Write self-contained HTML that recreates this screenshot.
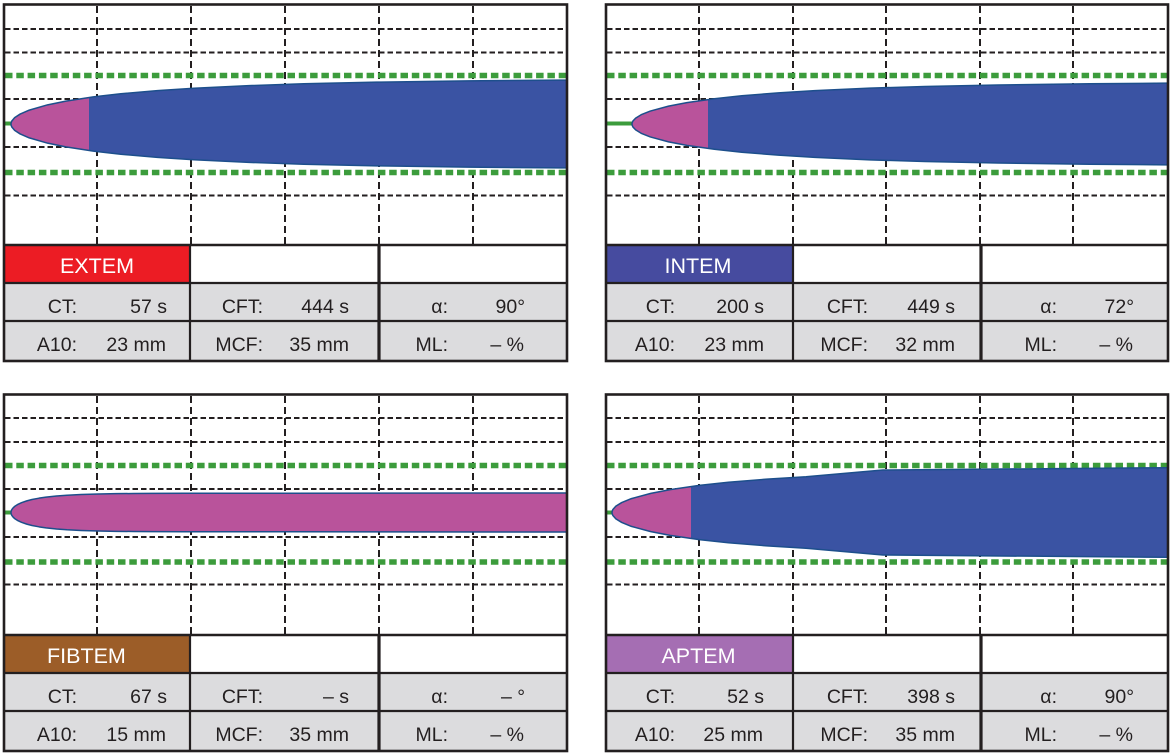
<!DOCTYPE html>
<html>
<head>
<meta charset="utf-8">
<style>
html,body{margin:0;padding:0;background:#fff;}
svg{display:block;}
text{font-family:"Liberation Sans",Arial,sans-serif;}
.lbl{font-size:19.5px;fill:#231f20;text-anchor:end;}
.hdr{font-size:21.5px;fill:#fff;}
.hd{stroke:#231f20;stroke-width:2;stroke-dasharray:5.5 3;fill:none;}
.vd{stroke:#231f20;stroke-width:2;stroke-dasharray:7 4;fill:none;}
.gd{stroke:#3c9c3c;stroke-width:5.5;stroke-dasharray:7.5 3.8;fill:none;}
.gc{stroke:#3c9c3c;stroke-width:4;fill:none;}
.bd{stroke:#231f20;fill:none;}
.blue{fill:#3a53a3;stroke:none;}
.pink{fill:#b9539b;stroke:none;}
.edge{fill:none;stroke:#1d4f8c;stroke-width:1.5;stroke-linejoin:round;}
</style>
</head>
<body>
<svg width="1173" height="755" viewBox="0 0 1173 755" xmlns="http://www.w3.org/2000/svg">
<defs>
  <clipPath id="cTL"><rect x="4" y="5" width="563" height="240"/></clipPath>
  <clipPath id="cTR"><rect x="606" y="5" width="562" height="240"/></clipPath>
  <clipPath id="cBL"><rect x="4" y="395" width="563" height="240"/></clipPath>
  <clipPath id="cBR"><rect x="606" y="395" width="562" height="240"/></clipPath>
  <clipPath id="pTL"><rect x="0" y="0" width="89" height="755"/></clipPath>
  <clipPath id="pTR"><rect x="600" y="0" width="108" height="755"/></clipPath>
  <clipPath id="pBR"><rect x="600" y="0" width="91" height="755"/></clipPath>
</defs>

<!-- ============ TABLE FILLS ============ -->
<rect x="4" y="246" width="186" height="37" fill="#ec1c24"/>
<rect x="4" y="283" width="563" height="78" fill="#dcdcde"/>
<rect x="606" y="246" width="187" height="37" fill="#464b9f"/>
<rect x="606" y="283" width="562" height="78" fill="#dcdcde"/>
<rect x="4" y="636" width="186" height="37" fill="#9c5d28"/>
<rect x="4" y="673" width="563" height="78" fill="#dcdcde"/>
<rect x="606" y="636" width="187" height="37" fill="#a56eb3"/>
<rect x="606" y="673" width="562" height="78" fill="#dcdcde"/>

<!-- ============ GRIDS ============ -->
<g>
  <path class="hd" d="M5 29H566 M5 52.5H566 M5 99H566 M5 147H566 M5 195.5H566"/>
  <path class="vd" d="M97 6V244 M191 6V244 M285 6V244 M379 6V244 M473 6V244"/>
  <path class="gd" d="M5 75.5H566 M5 172.5H566"/>
  <path class="gc" d="M5 123.5H14"/>
</g>
<g>
  <path class="hd" d="M607 29H1167 M607 52.5H1167 M607 99H1167 M607 147H1167 M607 195.5H1167"/>
  <path class="vd" d="M699 6V244 M793 6V244 M886 6V244 M980 6V244 M1073 6V244"/>
  <path class="gd" d="M607 75.5H1167 M607 172.5H1167"/>
  <path class="gc" d="M607 123.5H634"/>
</g>
<g>
  <path class="hd" d="M5 418H566 M5 442H566 M5 489H566 M5 537H566 M5 584.5H566"/>
  <path class="vd" d="M97 396V634 M191 396V634 M285 396V634 M379 396V634 M473 396V634"/>
  <path class="gd" d="M5 465.5H566 M5 562H566"/>
  <path class="gc" d="M5 512.5H14"/>
</g>
<g>
  <path class="hd" d="M607 418H1167 M607 442H1167 M607 489H1167 M607 537H1167 M607 584.5H1167"/>
  <path class="vd" d="M699 396V634 M793 396V634 M886 396V634 M980 396V634 M1073 396V634"/>
  <path class="gd" d="M607 465.5H1167 M607 562H1167"/>
  <path class="gc" d="M607 512.5H614"/>
</g>

<!-- ============ SHAPES ============ -->
<!-- EXTEM -->
<g clip-path="url(#cTL)">
  <g transform="translate(11,124) scale(183,45)">
    <path class="blue" d="M0,0 L0.001,-0.0316 L0.005,-0.0706 L0.02,-0.1407 L0.05,-0.2208 L0.1,-0.3085 L0.2,-0.4258 L0.3,-0.5091 L0.45,-0.602 L0.6,-0.6717 L0.8,-0.7421 L1,-0.7951 L1.3,-0.8529 L1.6,-0.8934 L2,-0.9299 L2.5,-0.9581 L3,-0.9748 L3.5,-0.9848 L4,-0.9908 L5,-0.9966 L8,-0.9998 L25,-1 L25,1 L8,0.9998 L5,0.9966 L4,0.9908 L3.5,0.9848 L3,0.9748 L2.5,0.9581 L2,0.9299 L1.6,0.8934 L1.3,0.8529 L1,0.7951 L0.8,0.7421 L0.6,0.6717 L0.45,0.602 L0.3,0.5091 L0.2,0.4258 L0.1,0.3085 L0.05,0.2208 L0.02,0.1407 L0.005,0.0706 L0.001,0.0316 Z"/>
  </g>
  <g clip-path="url(#pTL)">
    <g transform="translate(11,124) scale(183,45)">
      <path class="pink" d="M0,0 L0.001,-0.0316 L0.005,-0.0706 L0.02,-0.1407 L0.05,-0.2208 L0.1,-0.3085 L0.2,-0.4258 L0.3,-0.5091 L0.45,-0.602 L0.6,-0.6717 L0.8,-0.7421 L1,-0.7951 L1,0.7951 L0.8,0.7421 L0.6,0.6717 L0.45,0.602 L0.3,0.5091 L0.2,0.4258 L0.1,0.3085 L0.05,0.2208 L0.02,0.1407 L0.005,0.0706 L0.001,0.0316 Z"/>
    </g>
  </g>
  <g transform="translate(11,124) scale(183,45)">
    <path class="edge" vector-effect="non-scaling-stroke" d="M0,0 L0.001,-0.0316 L0.005,-0.0706 L0.02,-0.1407 L0.05,-0.2208 L0.1,-0.3085 L0.2,-0.4258 L0.3,-0.5091 L0.45,-0.602 L0.6,-0.6717 L0.8,-0.7421 L1,-0.7951 L1.3,-0.8529 L1.6,-0.8934 L2,-0.9299 L2.5,-0.9581 L3,-0.9748 L3.5,-0.9848 L4,-0.9908 L5,-0.9966 L8,-0.9998 L25,-1 L25,1 L8,0.9998 L5,0.9966 L4,0.9908 L3.5,0.9848 L3,0.9748 L2.5,0.9581 L2,0.9299 L1.6,0.8934 L1.3,0.8529 L1,0.7951 L0.8,0.7421 L0.6,0.6717 L0.45,0.602 L0.3,0.5091 L0.2,0.4258 L0.1,0.3085 L0.05,0.2208 L0.02,0.1407 L0.005,0.0706 L0.001,0.0316 Z"/>
  </g>
</g>

<!-- INTEM -->
<g clip-path="url(#cTR)">
  <g transform="translate(632,124) scale(183,42)">
    <path class="blue" d="M0,0 L0.001,-0.0316 L0.005,-0.0706 L0.02,-0.1407 L0.05,-0.2208 L0.1,-0.3085 L0.2,-0.4258 L0.3,-0.5091 L0.45,-0.602 L0.6,-0.6717 L0.8,-0.7421 L1,-0.7951 L1.3,-0.8529 L1.6,-0.8934 L2,-0.9299 L2.5,-0.9581 L3,-0.9748 L3.5,-0.9848 L4,-0.9908 L5,-0.9966 L8,-0.9998 L25,-1 L25,1 L8,0.9998 L5,0.9966 L4,0.9908 L3.5,0.9848 L3,0.9748 L2.5,0.9581 L2,0.9299 L1.6,0.8934 L1.3,0.8529 L1,0.7951 L0.8,0.7421 L0.6,0.6717 L0.45,0.602 L0.3,0.5091 L0.2,0.4258 L0.1,0.3085 L0.05,0.2208 L0.02,0.1407 L0.005,0.0706 L0.001,0.0316 Z"/>
  </g>
  <g clip-path="url(#pTR)">
    <g transform="translate(632,124) scale(183,42)">
      <path class="pink" d="M0,0 L0.001,-0.0316 L0.005,-0.0706 L0.02,-0.1407 L0.05,-0.2208 L0.1,-0.3085 L0.2,-0.4258 L0.3,-0.5091 L0.45,-0.602 L0.6,-0.6717 L0.8,-0.7421 L1,-0.7951 L1,0.7951 L0.8,0.7421 L0.6,0.6717 L0.45,0.602 L0.3,0.5091 L0.2,0.4258 L0.1,0.3085 L0.05,0.2208 L0.02,0.1407 L0.005,0.0706 L0.001,0.0316 Z"/>
    </g>
  </g>
  <g transform="translate(632,124) scale(183,42)">
    <path class="edge" vector-effect="non-scaling-stroke" d="M0,0 L0.001,-0.0316 L0.005,-0.0706 L0.02,-0.1407 L0.05,-0.2208 L0.1,-0.3085 L0.2,-0.4258 L0.3,-0.5091 L0.45,-0.602 L0.6,-0.6717 L0.8,-0.7421 L1,-0.7951 L1.3,-0.8529 L1.6,-0.8934 L2,-0.9299 L2.5,-0.9581 L3,-0.9748 L3.5,-0.9848 L4,-0.9908 L5,-0.9966 L8,-0.9998 L25,-1 L25,1 L8,0.9998 L5,0.9966 L4,0.9908 L3.5,0.9848 L3,0.9748 L2.5,0.9581 L2,0.9299 L1.6,0.8934 L1.3,0.8529 L1,0.7951 L0.8,0.7421 L0.6,0.6717 L0.45,0.602 L0.3,0.5091 L0.2,0.4258 L0.1,0.3085 L0.05,0.2208 L0.02,0.1407 L0.005,0.0706 L0.001,0.0316 Z"/>
  </g>
</g>

<!-- FIBTEM -->
<g clip-path="url(#cBL)">
  <g transform="translate(11,512.5) scale(35,19.3)">
    <path class="pink" d="M0,0 L0.001,-0.0316 L0.005,-0.0706 L0.02,-0.1407 L0.05,-0.2208 L0.1,-0.3085 L0.2,-0.4258 L0.3,-0.5091 L0.45,-0.602 L0.6,-0.6717 L0.8,-0.7421 L1,-0.7951 L1.3,-0.8529 L1.6,-0.8934 L2,-0.9299 L2.5,-0.9581 L3,-0.9748 L3.5,-0.9848 L4,-0.9908 L5,-0.9966 L8,-0.9998 L25,-1.02 L25,1.02 L8,0.9998 L5,0.9966 L4,0.9908 L3.5,0.9848 L3,0.9748 L2.5,0.9581 L2,0.9299 L1.6,0.8934 L1.3,0.8529 L1,0.7951 L0.8,0.7421 L0.6,0.6717 L0.45,0.602 L0.3,0.5091 L0.2,0.4258 L0.1,0.3085 L0.05,0.2208 L0.02,0.1407 L0.005,0.0706 L0.001,0.0316 Z"/>
    <path class="edge" vector-effect="non-scaling-stroke" d="M0,0 L0.001,-0.0316 L0.005,-0.0706 L0.02,-0.1407 L0.05,-0.2208 L0.1,-0.3085 L0.2,-0.4258 L0.3,-0.5091 L0.45,-0.602 L0.6,-0.6717 L0.8,-0.7421 L1,-0.7951 L1.3,-0.8529 L1.6,-0.8934 L2,-0.9299 L2.5,-0.9581 L3,-0.9748 L3.5,-0.9848 L4,-0.9908 L5,-0.9966 L8,-0.9998 L25,-1.02 L25,1.02 L8,0.9998 L5,0.9966 L4,0.9908 L3.5,0.9848 L3,0.9748 L2.5,0.9581 L2,0.9299 L1.6,0.8934 L1.3,0.8529 L1,0.7951 L0.8,0.7421 L0.6,0.6717 L0.45,0.602 L0.3,0.5091 L0.2,0.4258 L0.1,0.3085 L0.05,0.2208 L0.02,0.1407 L0.005,0.0706 L0.001,0.0316 Z"/>
  </g>
</g>

<!-- APTEM -->
<g clip-path="url(#cBR)">
  <g transform="translate(612,512.5) scale(194,45)">
    <path class="blue" d="M0,0 L0.001,-0.0316 L0.005,-0.0706 L0.02,-0.1407 L0.05,-0.2208 L0.1,-0.3085 L0.2,-0.4258 L0.3,-0.5091 L0.45,-0.602 L0.6,-0.6717 L0.8,-0.7421 L1,-0.7951 L1.397,-0.944 L3,-1 L25,-1 L25,1 L3,1 L1.397,0.944 L1,0.7951 L0.8,0.7421 L0.6,0.6717 L0.45,0.602 L0.3,0.5091 L0.2,0.4258 L0.1,0.3085 L0.05,0.2208 L0.02,0.1407 L0.005,0.0706 L0.001,0.0316 Z"/>
  </g>
  <g clip-path="url(#pBR)">
    <g transform="translate(612,512.5) scale(194,45)">
      <path class="pink" d="M0,0 L0.001,-0.0316 L0.005,-0.0706 L0.02,-0.1407 L0.05,-0.2208 L0.1,-0.3085 L0.2,-0.4258 L0.3,-0.5091 L0.45,-0.602 L0.6,-0.6717 L0.6,0.6717 L0.45,0.602 L0.3,0.5091 L0.2,0.4258 L0.1,0.3085 L0.05,0.2208 L0.02,0.1407 L0.005,0.0706 L0.001,0.0316 Z"/>
    </g>
  </g>
  <g transform="translate(612,512.5) scale(194,45)">
    <path class="edge" vector-effect="non-scaling-stroke" d="M0,0 L0.001,-0.0316 L0.005,-0.0706 L0.02,-0.1407 L0.05,-0.2208 L0.1,-0.3085 L0.2,-0.4258 L0.3,-0.5091 L0.45,-0.602 L0.6,-0.6717 L0.8,-0.7421 L1,-0.7951 L1.397,-0.944 L3,-1 L25,-1 L25,1 L3,1 L1.397,0.944 L1,0.7951 L0.8,0.7421 L0.6,0.6717 L0.45,0.602 L0.3,0.5091 L0.2,0.4258 L0.1,0.3085 L0.05,0.2208 L0.02,0.1407 L0.005,0.0706 L0.001,0.0316 Z"/>
  </g>
</g>

<!-- ============ TABLE LINES & BORDERS ============ -->
<g class="bd">
  <rect x="4" y="4.5" width="563" height="356.5" stroke-width="2.6"/>
  <path d="M4 245H567" stroke-width="2.6"/>
  <path d="M4 283H567 M4 321H567" stroke-width="2.2"/>
  <path d="M190 245V361" stroke-width="2.2"/>
  <path d="M379 245V361" stroke-width="3.2"/>
</g>
<g class="bd">
  <rect x="606" y="4.5" width="562" height="356.5" stroke-width="2.6"/>
  <path d="M606 245H1168" stroke-width="2.6"/>
  <path d="M606 283H1168 M606 321H1168" stroke-width="2.2"/>
  <path d="M793 245V361" stroke-width="2.2"/>
  <path d="M981 245V361" stroke-width="3.2"/>
</g>
<g class="bd">
  <rect x="4" y="394.5" width="563" height="356.5" stroke-width="2.6"/>
  <path d="M4 635H567" stroke-width="2.6"/>
  <path d="M4 673H567 M4 711H567" stroke-width="2.2"/>
  <path d="M190 635V751" stroke-width="2.2"/>
  <path d="M379 635V751" stroke-width="3.2"/>
</g>
<g class="bd">
  <rect x="606" y="394.5" width="562" height="356.5" stroke-width="2.6"/>
  <path d="M606 635H1168" stroke-width="2.6"/>
  <path d="M606 673H1168 M606 711H1168" stroke-width="2.2"/>
  <path d="M793 635V751" stroke-width="2.2"/>
  <path d="M981 635V751" stroke-width="3.2"/>
</g>

<!-- ============ TEXT ============ -->
<text class="hdr" x="97" y="273" text-anchor="middle">EXTEM</text>
<text class="lbl" x="77" y="313">CT:</text>
<text class="lbl" x="167" y="313">57 s</text>
<text class="lbl" x="263" y="313">CFT:</text>
<text class="lbl" x="349" y="313">444 s</text>
<text class="lbl" x="448" y="313">α:</text>
<text class="lbl" x="525" y="313">90°</text>
<text class="lbl" x="77" y="351">A10:</text>
<text class="lbl" x="166" y="351">23 mm</text>
<text class="lbl" x="263" y="351">MCF:</text>
<text class="lbl" x="349" y="351">35 mm</text>
<text class="lbl" x="448" y="351">ML:</text>
<text class="lbl" x="524" y="351">– %</text>

<text class="hdr" x="698" y="273" text-anchor="middle">INTEM</text>
<text class="lbl" x="675" y="313">CT:</text>
<text class="lbl" x="764" y="313">200 s</text>
<text class="lbl" x="868" y="313">CFT:</text>
<text class="lbl" x="955" y="313">449 s</text>
<text class="lbl" x="1057" y="313">α:</text>
<text class="lbl" x="1134" y="313">72°</text>
<text class="lbl" x="675" y="351">A10:</text>
<text class="lbl" x="764" y="351">23 mm</text>
<text class="lbl" x="868" y="351">MCF:</text>
<text class="lbl" x="955" y="351">32 mm</text>
<text class="lbl" x="1057" y="351">ML:</text>
<text class="lbl" x="1133" y="351">– %</text>

<text class="hdr" x="47" y="663">FIBTEM</text>
<text class="lbl" x="77" y="703">CT:</text>
<text class="lbl" x="167" y="703">67 s</text>
<text class="lbl" x="263" y="703">CFT:</text>
<text class="lbl" x="349" y="703">– s</text>
<text class="lbl" x="448" y="703">α:</text>
<text class="lbl" x="525" y="703">– °</text>
<text class="lbl" x="77" y="741">A10:</text>
<text class="lbl" x="166" y="741">15 mm</text>
<text class="lbl" x="263" y="741">MCF:</text>
<text class="lbl" x="349" y="741">35 mm</text>
<text class="lbl" x="448" y="741">ML:</text>
<text class="lbl" x="524" y="741">– %</text>

<text class="hdr" x="698.5" y="663" text-anchor="middle">APTEM</text>
<text class="lbl" x="675" y="703">CT:</text>
<text class="lbl" x="764" y="703">52 s</text>
<text class="lbl" x="868" y="703">CFT:</text>
<text class="lbl" x="955" y="703">398 s</text>
<text class="lbl" x="1057" y="703">α:</text>
<text class="lbl" x="1134" y="703">90°</text>
<text class="lbl" x="675" y="741">A10:</text>
<text class="lbl" x="763" y="741">25 mm</text>
<text class="lbl" x="868" y="741">MCF:</text>
<text class="lbl" x="955" y="741">35 mm</text>
<text class="lbl" x="1057" y="741">ML:</text>
<text class="lbl" x="1133" y="741">– %</text>
</svg>
</body>
</html>
